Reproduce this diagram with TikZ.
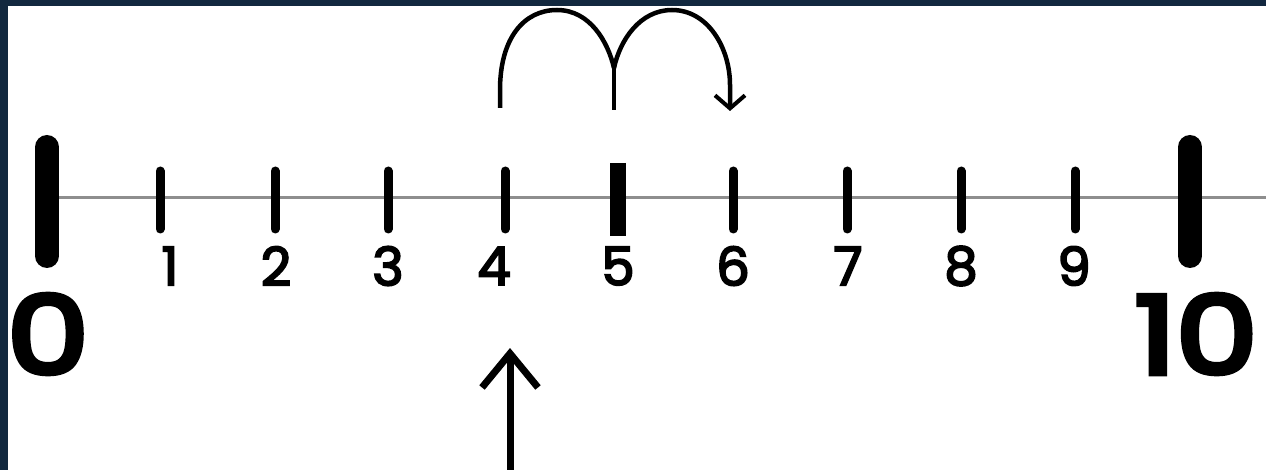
\documentclass[tikz,border=0pt]{standalone}
\usepackage{fontspec}
\setmainfont{Poppins}
\newfontfamily\popsemi[FakeBold=3.5]{Poppins}
\newfontfamily\popbig[FakeBold=5]{Poppins}
\usetikzlibrary{arrows.meta}
\definecolor{navy}{HTML}{12283F}
\definecolor{axisgray}{HTML}{8E8E8E}
\tikzset{
  smalltick/.style={line width=9pt, line cap=round},
  bigtick/.style={line width=24pt, line cap=round},
  midtick/.style={line width=16pt},
  smalllab/.style={inner sep=0pt, font=\fontsize{53}{53}\popsemi},
  biglab/.style={inner sep=0pt, xscale=1.2, font=\fontsize{108}{108}\popbig},
  jump/.style={line width=4.5pt},
  pointer/.style={line width=7pt, -{Straight Barb[length=34pt,width=56pt,line width=7pt]}}
}
\begin{document}
\begin{tikzpicture}[x=1pt,y=-1pt]
\useasboundingbox (0,0) rectangle (1266,470);
\fill[navy] (0,0) rectangle (1266,470);
\fill[white] (8,6) rectangle (1266,470);
% axis
\coordinate (axL) at (47,198);
\coordinate (axR) at (1266,198);
\draw[axisgray, line width=3pt] (axL) -- (axR);
% end ticks
\draw[bigtick] (47,147) -- (47,256);
\draw[bigtick] (1190,147) -- (1190,256);
% small ticks
\foreach \i/\x in {1/160,2/275,3/388,4/505,6/733,7/847,8/961,9/1075}{
  \draw[smalltick] (\x,171) -- (\x,229);
}
\draw[midtick] (618,163) -- (618,236);
% labels
\node[smalllab] (l1) at (170,266) {1};
\node[smalllab] (l2) at (276,266) {2};
\node[smalllab] (l3) at (388,266) {3};
\node[smalllab] (l4) at (494,266) {4};
\node[smalllab] (l5) at (618,266) {5};
\node[smalllab] (l6) at (733,266) {6};
\node[smalllab] (l7) at (848,266) {7};
\node[smalllab] (l8) at (961,266) {8};
\node[smalllab] (l9) at (1074,266) {9};
\node[biglab] (l0) at (48,334) {0};
\node[biglab] (l10) at (1196,334) {10};
% jumps
\coordinate (j4) at (500,108);
\coordinate (j5) at (614,68);
\coordinate (j5b) at (614,110);
\coordinate (j6) at (730,111);
\draw[jump] (j4) -- (500,90) .. controls (500,38) and (524,10) .. (557,10)
  .. controls (590,10) and (608,42) .. (j5);
\draw[jump] (j5) -- (j5b);
\draw[jump, -{Straight Barb[length=13pt,width=30pt,line width=4pt]}] (j5) .. controls (620,40) and (640,10) .. (672,10)
  .. controls (708,10) and (730,48) .. (730,85) -- (j6);
% pointer arrow
\coordinate (pb) at (510,470);
\coordinate (pt) at (510,348);
\draw[pointer] (pb) -- (pt);
\end{tikzpicture}
\end{document}
